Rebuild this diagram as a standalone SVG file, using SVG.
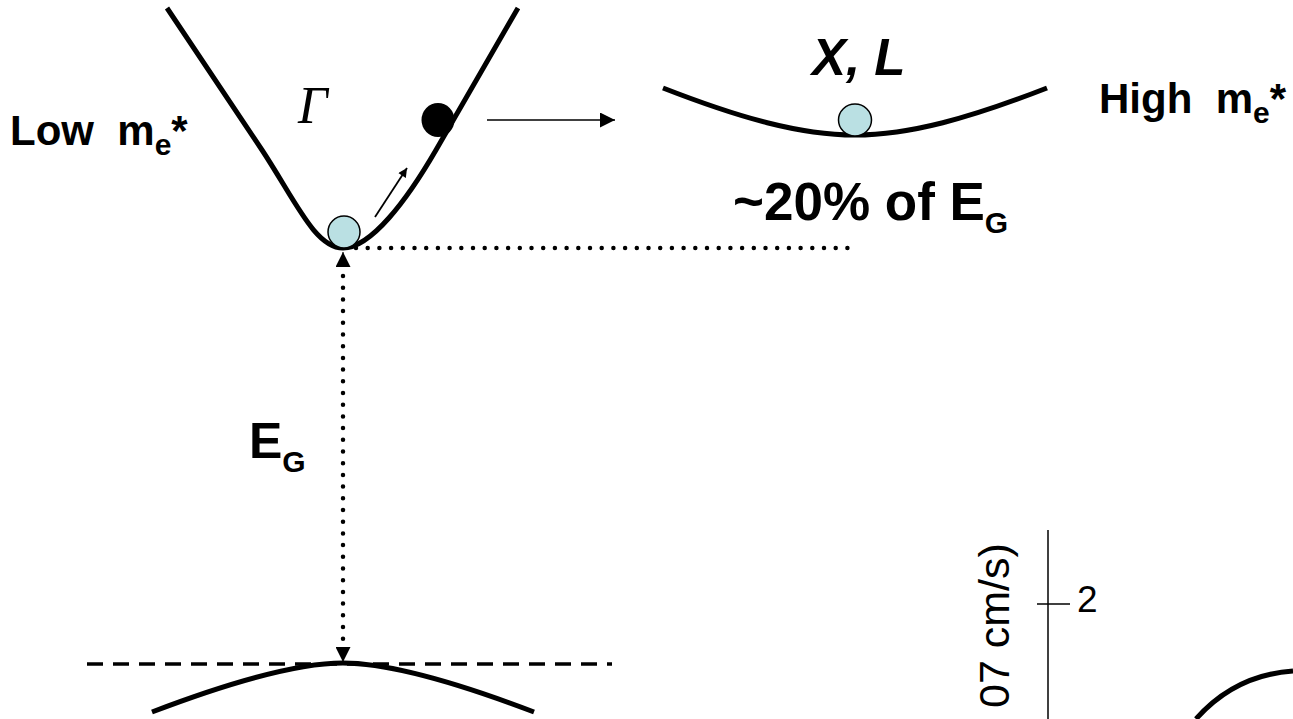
<svg xmlns="http://www.w3.org/2000/svg" width="1293" height="719" viewBox="0 0 1293 719">
<style>
.band{fill:none;stroke:#000;stroke-width:5;stroke-linejoin:round}
.lbl{font-family:"Liberation Sans",Arial,sans-serif;font-weight:bold;fill:#000;white-space:pre}
.dots{stroke:#000;stroke-width:4.5;stroke-dasharray:0 11.7;stroke-linecap:round;fill:none}
.ball{fill:#bae0e3;stroke:#000;stroke-width:1.5}
.ax{font-family:"Liberation Sans",Arial,sans-serif;fill:#000}
</style>
<defs>
<marker id="ahs" viewBox="0 0 10 10" refX="10" refY="5" markerWidth="12" markerHeight="9" markerUnits="userSpaceOnUse" orient="auto-start-reverse"><path d="M0,0 L10,5 L0,10 z" fill="#000"/></marker>
<marker id="ahm" viewBox="0 0 10 10" refX="10" refY="5" markerWidth="16" markerHeight="15" markerUnits="userSpaceOnUse" orient="auto-start-reverse"><path d="M0,0 L10,5 L0,10 z" fill="#000"/></marker>
</defs>
<g id="gamma-band"><path class="band" d="M167,8 L262,150 C295,200 315,248 343,248 C371,248 407,200 436,150 L518,8"/></g>
<g id="xl-band"><path class="band" d="M663,88 C740,118 800,135 855,135 C910,135 970,118 1047,88"/></g>
<g id="valence-band"><path class="band" d="M152,712 C215,688 290,663 343,663 C396,663 471,688 534,712"/></g>
<g id="electron-gamma"><ellipse class="ball" cx="344" cy="232" rx="16" ry="16"/></g>
<g id="electron-hot"><ellipse cx="438" cy="120" rx="16.5" ry="17" fill="#000"/></g>
<g id="electron-xl"><ellipse class="ball" cx="855" cy="120" rx="16.5" ry="16"/></g>
<g id="connectors">
<line x1="375" y1="217" x2="407" y2="168" stroke="#000" stroke-width="1.8" marker-end="url(#ahs)"/>
<line x1="487" y1="120" x2="615" y2="120" stroke="#000" stroke-width="1.6" marker-end="url(#ahm)"/>
<line class="dots" x1="356" y1="248" x2="848" y2="248"/>
<line class="dots" x1="343" y1="276" x2="343" y2="645"/>
<line x1="343" y1="262" x2="343" y2="252" stroke="#000" stroke-width="1" marker-end="url(#ahm)"/>
<line x1="343" y1="652" x2="343" y2="662" stroke="#000" stroke-width="1" marker-end="url(#ahm)"/>
<line x1="87" y1="664" x2="612" y2="664" stroke="#000" stroke-width="3.5" stroke-dasharray="16 10"/>
</g>
<g id="axis">
<line x1="1048" y1="530" x2="1048" y2="719" stroke="#000" stroke-width="1.5"/>
<line x1="1037" y1="604" x2="1070" y2="604" stroke="#000" stroke-width="1.5"/>
<text class="ax" x="1077" y="612" font-size="37">2</text>
<text class="ax" transform="translate(1009,708) rotate(-90)" font-size="43">07 cm/s)</text>
<path class="band" d="M1196,719 Q1235,675 1293,671"/>
</g>
<g id="labels">
<text class="lbl" x="10" y="145" font-size="42">Low  m<tspan font-size="30" dy="10">e</tspan><tspan dy="-10">*</tspan></text>
<text class="lbl" x="1099" y="113" font-size="42">High  m<tspan font-size="30" dy="10">e</tspan><tspan dy="-10">*</tspan></text>
<text x="298" y="123" font-family="Liberation Serif,serif" font-style="italic" font-size="52">Γ</text>
<text class="lbl" x="812" y="75" font-size="51" font-style="italic">X, L</text>
<text class="lbl" x="733" y="220" font-size="53">~20% of E<tspan font-size="30" dy="13">G</tspan></text>
<text class="lbl" x="249" y="458" font-size="50">E<tspan font-size="30" dy="14">G</tspan></text>
</g>
</svg>
